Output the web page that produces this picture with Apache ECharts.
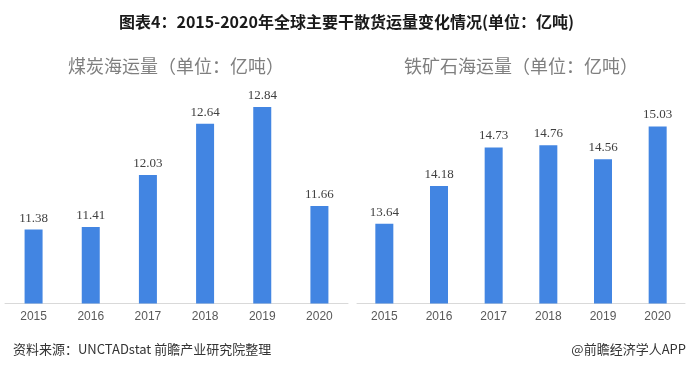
<!DOCTYPE html>
<html><head><meta charset="utf-8">
<script src="https://cdn.jsdelivr.net/npm/echarts@6/dist/echarts.min.js"></script>
<style>html,body{margin:0;padding:0;background:#fff}#c{width:693px;height:369px}</style>
</head><body><div id="c"></div>
<script>
const years = ['2015','2016','2017','2018','2019','2020'];
const coalValues = [11.38, 11.41, 12.03, 12.64, 12.84, 11.66];
const ironValues = [13.64, 14.18, 14.73, 14.76, 14.56, 15.03];
const mainTitle = '图表4：2015-2020年全球主要干散货运量变化情况(单位：亿吨)';
const coalTitle = '煤炭海运量（单位：亿吨）';
const ironTitle = '铁矿石海运量（单位：亿吨）';
const sourceText = '资料来源：UNCTADstat 前瞻产业研究院整理';
const brandText = '@前瞻经济学人APP';

const chart = echarts.init(document.getElementById('c'), null, {renderer:'canvas'});
const cjk = '"Noto Sans CJK SC", "Noto Sans", sans-serif';
const xAxisCommon = {
  type:'category', data: years,
  axisLine:{lineStyle:{color:'#d9d9d9', width:1}},
  axisTick:{show:false},
  axisLabel:{color:'#595959', fontSize:12, fontFamily:'"Liberation Sans", Arial, sans-serif', margin:7}
};
const yAxisCommon = {type:'value', show:false, splitLine:{show:false}};
const labelCommon = {show:true, position:'top', distance:5, color:'#404040', fontSize:13,
  fontFamily:'"Liberation Serif", serif', formatter: p => p.value.toFixed(2)};
chart.setOption({
  animation:false,
  backgroundColor:'#fff',
  title:[
    {text: mainTitle, left:'center', top:9, textStyle:{fontSize:16, fontWeight:'bold', color:'#1a1a1a', fontFamily:cjk}},
    {text: coalTitle, left:171, textAlign:'center', top:52, textStyle:{fontSize:18, fontWeight:'normal', color:'#7f7f7f', fontFamily:cjk}},
    {text: ironTitle, left:516, textAlign:'center', top:52, textStyle:{fontSize:18, fontWeight:'normal', color:'#7f7f7f', fontFamily:cjk}},
    {text: sourceText, left:8, top:338, textStyle:{fontSize:13, fontWeight:'normal', color:'#333', fontFamily:cjk}},
    {text: brandText, right:2, top:338, textStyle:{fontSize:13, fontWeight:'normal', color:'#333', fontFamily:cjk}}
  ],
  grid:[
    {left:5, right:345, top:93.5, bottom:65.5},
    {left:357, right:8, top:93.5, bottom:65.5}
  ],
  xAxis:[
    Object.assign({gridIndex:0}, xAxisCommon),
    Object.assign({gridIndex:1}, xAxisCommon)
  ],
  yAxis:[
    Object.assign({gridIndex:0, min:10.5, max:13}, yAxisCommon),
    Object.assign({gridIndex:1, min:12.5, max:15.5}, yAxisCommon)
  ],
  series:[
    {type:'bar', xAxisIndex:0, yAxisIndex:0, data: coalValues, barWidth:18, itemStyle:{color:'#4285E2'}, label:labelCommon},
    {type:'bar', xAxisIndex:1, yAxisIndex:1, data: ironValues, barWidth:18, itemStyle:{color:'#4285E2'}, label:labelCommon}
  ]
});
</script></body></html>
